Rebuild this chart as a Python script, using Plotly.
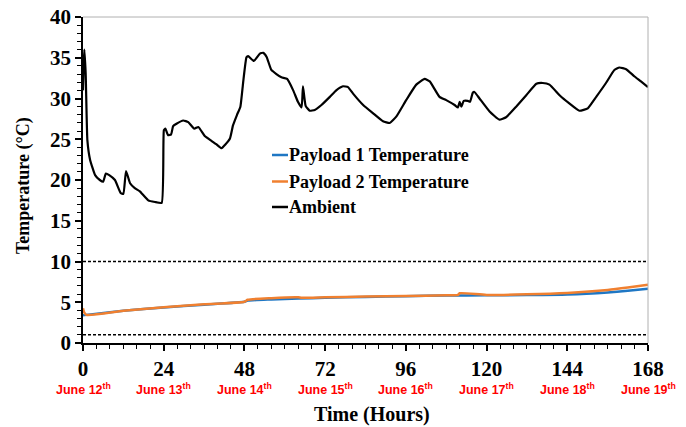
import plotly.graph_objects as go

# Ambient temperature (hours, °C)
amb_t = [0, 0.4, 0.8, 1.3, 2.1, 3.6, 5.0, 6.0, 6.8, 7.8, 9.5, 11.2, 12.0, 12.8, 14.0, 15.4, 16.9,
         19.4, 21.4, 23.4, 24.05, 24.5, 25.3, 26.2, 26.8, 27.8, 29.8, 31.3, 33.1, 34.3, 36.2, 38.2,
         39.6, 41.2, 42.2, 43.7, 44.6, 45.8, 46.8, 47.6, 48.6, 49.1, 50.8, 52.6, 53.6, 54.6, 56.0,
         57.5, 59.0, 60.7, 62.5, 63.9, 65.0, 65.4, 66.2, 67.4, 68.9, 70.9, 73.4, 75.3, 77.3, 78.8,
         80.3, 83.3, 86.2, 89.2, 91.2, 93.2, 96.1, 99.1, 101.6, 103.1, 106.0, 108.0, 110.5, 111.5,
         112.0, 112.5, 113.2, 114.4, 115.1, 115.9, 116.4, 117.9, 120.9, 123.8, 125.8, 128.8, 131.8,
         134.8, 136.7, 138.7, 141.7, 144.6, 147.6, 150.1, 152.6, 155.5, 158.0, 159.5, 161.5, 164.0,
         165.9, 168.0]
amb_v = [31.0, 36.0, 33.0, 24.9, 22.5, 20.6, 20.0, 19.8, 20.8, 20.6, 20.0, 18.4, 18.3, 21.1, 19.6,
         19.0, 18.6, 17.5, 17.3, 17.2, 26.1, 26.3, 25.5, 25.6, 26.6, 26.9, 27.3, 27.1, 26.3, 26.5,
         25.4, 24.8, 24.4, 23.9, 24.3, 25.1, 26.7, 28.0, 29.0, 31.9, 35.05, 35.2, 34.6, 35.5, 35.6,
         35.1, 33.5, 33.0, 32.6, 32.4, 31.0, 29.6, 28.9, 31.5, 29.1, 28.5, 28.6, 29.2, 30.2, 31.0,
         31.5, 31.4, 30.6, 29.2, 28.2, 27.2, 27.0, 27.8, 29.8, 31.7, 32.4, 32.1, 30.2, 29.8, 29.2,
         28.9, 29.6, 29.0, 29.7, 29.7, 29.6, 30.7, 30.8, 30.0, 28.4, 27.4, 27.7, 29.0, 30.4, 31.8,
         31.9, 31.7, 30.4, 29.4, 28.5, 28.8, 30.2, 31.9, 33.5, 33.8, 33.6, 32.7, 32.1, 31.4]

# Payload temperatures
p1_t = [0, 1, 12, 24, 36, 48, 49, 56, 64, 72, 84, 96, 108, 120, 132, 144, 156, 162, 168]
p1_v = [3.4, 3.45, 3.95, 4.35, 4.7, 5.05, 5.2, 5.35, 5.45, 5.55, 5.65, 5.75, 5.82, 5.85, 5.88,
        5.95, 6.2, 6.4, 6.66]
p2_t = [0, 0.3, 1, 12, 24, 36, 48, 49, 56, 64, 65, 72, 84, 96, 108, 111.5, 112, 120, 132, 144, 156,
        162, 168]
p2_v = [4.25, 3.8, 3.45, 3.95, 4.4, 4.75, 5.07, 5.3, 5.5, 5.6, 5.55, 5.6, 5.7, 5.78, 5.85, 5.9,
        6.1, 5.9, 5.98, 6.15, 6.5, 6.8, 7.15]

x_ticks = [0, 24, 48, 72, 96, 120, 144, 168]
date_labels = ["June 12<sup>th</sup>", "June 13<sup>th</sup>", "June 14<sup>th</sup>",
               "June 15<sup>th</sup>", "June 16<sup>th</sup>", "June 17<sup>th</sup>",
               "June 18<sup>th</sup>", "June 19<sup>th</sup>"]
limits = [10, 1]

names = ["Payload 1 Temperature", "Payload 2 Temperature", "Ambient"]
colors = ["#1f77c4", "#f08030", "#000000"]

serif = "Times New Roman, Liberation Serif, serif"
sans = "Arial, Liberation Sans, sans-serif"

W_PX, H_PX = 686, 427
L, R, T, B = 83, 38, 17, 84
pw = W_PX - L - R
ph = H_PX - T - B


def px_x(px):
    return (px - L) / pw


def px_y(py):
    return 1 - (py - T) / ph


fig = go.Figure()
fig.add_trace(go.Scatter(x=amb_t, y=amb_v, mode="lines", name=names[2],
                         line=dict(color=colors[2], width=2.2, shape="spline", smoothing=0.4)))
fig.add_trace(go.Scatter(x=p1_t, y=p1_v, mode="lines", name=names[0],
                         line=dict(color=colors[0], width=2.5, shape="spline", smoothing=0.6)))
fig.add_trace(go.Scatter(x=p2_t, y=p2_v, mode="lines", name=names[1],
                         line=dict(color=colors[1], width=2.5, shape="spline", smoothing=0.6)))

for lv in limits:
    fig.add_hline(y=lv, line=dict(color="black", width=1.5, dash="3px,2px"))

# Border top/right in gray
fig.add_shape(type="line", xref="paper", yref="paper", x0=0, x1=1, y0=1, y1=1,
              line=dict(color="#b0b0b0", width=1))
fig.add_shape(type="line", xref="paper", yref="paper", x0=1, x1=1, y0=0, y1=1,
              line=dict(color="#b0b0b0", width=1))

# Custom legend
leg_y = [155, 181.5, 207]
for nm, c, py in zip(names, colors, leg_y):
    yp = px_y(py)
    fig.add_shape(type="line", xref="paper", yref="paper", x0=px_x(272), x1=px_x(288),
                  y0=yp, y1=yp, line=dict(color=c, width=2.5))
    fig.add_annotation(xref="paper", yref="paper", x=px_x(288), y=yp, text=nm, showarrow=False,
                       xanchor="left", yanchor="middle", xshift=-1,
                       font=dict(family=serif, size=18, color="black", weight="bold"))

for xv, lab in zip(x_ticks, date_labels):
    fig.add_annotation(x=xv, xref="x", y=px_y(389), yref="paper", text=lab, showarrow=False,
                       yanchor="middle", xanchor="center",
                       font=dict(family=sans, size=12.5, color="#ff0000", weight="bold"))

# Axis titles
fig.add_annotation(xref="paper", yref="paper", x=px_x(372), y=px_y(414), text="Time (Hours)",
                   showarrow=False, xanchor="center", yanchor="middle",
                   font=dict(family=serif, size=20, color="black", weight="bold"))
fig.add_annotation(xref="paper", yref="paper", x=px_x(23), y=px_y(186), text="Temperature (°C)",
                   showarrow=False, xanchor="center", yanchor="middle", textangle=-90,
                   font=dict(family=serif, size=18, color="black", weight="bold"))

fig.update_layout(
    width=W_PX, height=H_PX,
    margin=dict(l=L, r=R, t=T, b=B, autoexpand=False),
    paper_bgcolor="white", plot_bgcolor="white",
    showlegend=False,
    xaxis=dict(range=[0, 168], tickvals=x_ticks, ticks="outside", ticklen=6, tickwidth=1.5,
               tickcolor="black", showline=True, linecolor="black", linewidth=1.5,
               showgrid=False, zeroline=False, automargin=False,
               minor=dict(dtick=4, tick0=0, ticks="outside", ticklen=4, tickcolor="black",
                          tickwidth=1),
               tickfont=dict(family=serif, size=21, color="black", weight="bold")),
    yaxis=dict(range=[0, 40], dtick=5, ticks="outside", ticklen=6, tickwidth=1.5,
               tickcolor="black", showline=True, linecolor="black", linewidth=1.5,
               showgrid=False, zeroline=False, automargin=False,
               minor=dict(dtick=1, ticks="outside", ticklen=4, tickcolor="black", tickwidth=1),
               tickfont=dict(family=serif, size=21, color="black", weight="bold")),
)

fig.write_html("out.html")
